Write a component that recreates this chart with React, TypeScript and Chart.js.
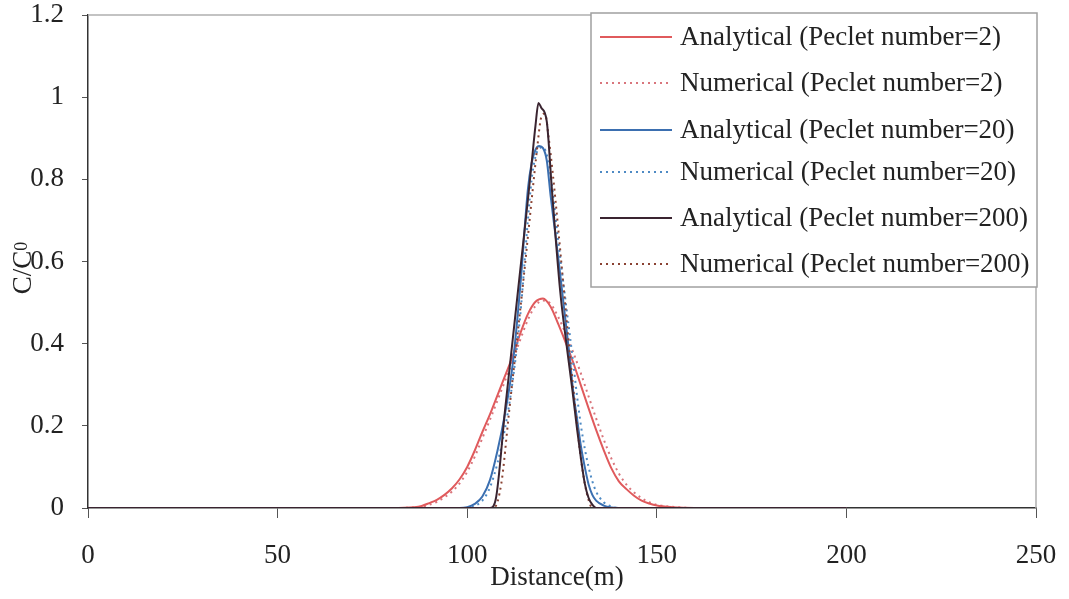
import React, { useEffect, useRef } from "react";
import { Chart, registerables } from "chart.js";

Chart.register(...registerables);

// ---- Data ----
const xTicks = [0, 50, 100, 150, 200, 250];
const yTicks = [0, 0.2, 0.4, 0.6, 0.8, 1, 1.2];

const seriesLabels = [
  "Analytical (Peclet number=2)",
  "Numerical (Peclet number=2)",
  "Analytical (Peclet number=20)",
  "Numerical (Peclet number=20)",
  "Analytical (Peclet number=200)",
  "Numerical (Peclet number=200)",
];

const anaPe2X = [0, 80, 86, 88, 90, 92, 94, 96, 98, 100, 102, 104, 106, 108, 110, 112, 114, 116, 118, 120, 122, 124, 126, 128, 130, 132, 134, 136, 138, 140, 142, 144, 146, 148, 150, 154, 160, 200];
const anaPe2Y = [0, 0, 0.002, 0.005, 0.012, 0.02, 0.032, 0.048, 0.07, 0.1, 0.14, 0.185, 0.228, 0.275, 0.322, 0.37, 0.425, 0.472, 0.502, 0.51, 0.49, 0.448, 0.402, 0.353, 0.298, 0.243, 0.19, 0.141, 0.097, 0.065, 0.046, 0.03, 0.018, 0.011, 0.006, 0.002, 0, 0];

const numPe2X = [0, 80, 88, 90, 92, 94, 96, 98, 100, 102, 104, 106, 108, 110, 112, 114, 116, 118, 120, 122, 124, 126, 128, 130, 132, 134, 136, 138, 140, 142, 144, 146, 148, 150, 154, 160, 200];
const numPe2Y = [0, 0, 0.003, 0.008, 0.015, 0.026, 0.04, 0.06, 0.088, 0.125, 0.17, 0.215, 0.262, 0.31, 0.358, 0.41, 0.458, 0.492, 0.505, 0.497, 0.465, 0.424, 0.378, 0.327, 0.272, 0.218, 0.167, 0.121, 0.084, 0.057, 0.038, 0.024, 0.014, 0.008, 0.003, 0, 0];

const anaPe20X = [0, 98, 100, 102, 104, 106, 108, 110, 112, 114, 116, 117, 118, 119, 120, 121, 122, 124, 126, 127, 128, 129, 130, 131, 132, 133, 134, 136, 138, 140, 200];
const anaPe20Y = [0, 0, 0.002, 0.01, 0.028, 0.068, 0.14, 0.231, 0.35, 0.54, 0.775, 0.84, 0.872, 0.881, 0.876, 0.845, 0.76, 0.61, 0.45, 0.37, 0.28, 0.215, 0.15, 0.1, 0.058, 0.032, 0.018, 0.006, 0.001, 0, 0];

const numPe20X = [0, 100, 102, 104, 106, 108, 110, 112, 114, 116, 117, 118, 119, 120, 121, 122, 124, 126, 128, 129, 130, 131, 132, 133, 134, 136, 138, 140, 200];
const numPe20Y = [0, 0, 0.005, 0.018, 0.05, 0.11, 0.195, 0.31, 0.47, 0.7, 0.8, 0.855, 0.875, 0.878, 0.86, 0.81, 0.65, 0.5, 0.35, 0.27, 0.2, 0.145, 0.1, 0.065, 0.04, 0.014, 0.004, 0, 0];

const anaPe200X = [0, 106, 107.5, 110, 112, 114, 116, 117, 118, 118.8, 119.5, 121, 122.3, 124.5, 126.3, 127.7, 129, 130, 131, 132, 133, 134, 200];
const anaPe200Y = [0, 0, 0.02, 0.24, 0.41, 0.58, 0.75, 0.84, 0.93, 0.986, 0.975, 0.94, 0.78, 0.53, 0.39, 0.29, 0.19, 0.12, 0.06, 0.025, 0.008, 0, 0];

const numPe200X = [0, 107, 109, 111, 113, 115, 117, 118.5, 119.5, 120.5, 121.5, 122.5, 124, 125, 126, 127, 128, 129, 130, 131, 132, 133, 200];
const numPe200Y = [0, 0, 0.06, 0.23, 0.4, 0.57, 0.75, 0.88, 0.95, 0.96, 0.9, 0.82, 0.68, 0.58, 0.48, 0.38, 0.29, 0.2, 0.12, 0.06, 0.02, 0, 0];

const seriesColors = ["#e05a5c", "#d9757c", "#3b6fb0", "#4e8ac4", "#3a2430", "#8a4232"];
const seriesDashed = [false, true, false, true, false, true];

const FONT = "'Liberation Serif', 'Times New Roman', serif";
const FS = 27;

function pts(xs: number[], ys: number[]) {
  return xs.map((x, i) => ({ x, y: ys[i] }));
}

export default function App() {
  const ref = useRef<HTMLCanvasElement | null>(null);

  useEffect(() => {
    if (!ref.current) return;
    const xsAll = [anaPe2X, numPe2X, anaPe20X, numPe20X, anaPe200X, numPe200X];
    const ysAll = [anaPe2Y, numPe2Y, anaPe20Y, numPe20Y, anaPe200Y, numPe200Y];

    const datasets = seriesLabels.map((label, i) => ({
      label,
      data: pts(xsAll[i], ysAll[i]),
      borderColor: seriesColors[i],
      backgroundColor: seriesColors[i],
      borderWidth: 2,
      borderDash: seriesDashed[i] ? [2, 4] : [],
      pointRadius: 0,
      fill: false,
      cubicInterpolationMode: "monotone" as const,
    }));
    const ordered = [4, 5, 2, 3, 0, 1].map((i) => datasets[i]);

    const framePlugin = {
      id: "frame",
      afterDraw(chart: any) {
        const { ctx, chartArea } = chart;
        const { left, right, top, bottom } = chartArea;
        ctx.save();
        ctx.strokeStyle = "#b0b0b0";
        ctx.lineWidth = 1.5;
        ctx.beginPath();
        ctx.moveTo(left, top);
        ctx.lineTo(right, top);
        ctx.lineTo(right, bottom);
        ctx.stroke();

        // y title C/C0
        ctx.fillStyle = "#222";
        ctx.translate(22, 268);
        ctx.rotate(-Math.PI / 2);
        ctx.font = `${FS}px ${FONT}`;
        ctx.textBaseline = "alphabetic";
        ctx.textAlign = "left";
        const main = "C/C";
        const w = ctx.measureText(main).width;
        ctx.font = `18px ${FONT}`;
        const w2 = ctx.measureText("0").width;
        const total = w + w2;
        ctx.font = `${FS}px ${FONT}`;
        ctx.fillText(main, -total / 2, 9);
        ctx.font = `18px ${FONT}`;
        ctx.fillText("0", -total / 2 + w, 5);
        ctx.restore();

        // x title
        ctx.save();
        ctx.fillStyle = "#222";
        ctx.font = `${FS}px ${FONT}`;
        ctx.textAlign = "center";
        ctx.textBaseline = "middle";
        ctx.fillText("Distance(m)", 557, 578);
        ctx.restore();

        // legend
        ctx.save();
        const lx = 591, ly = 13, lw = 446, lh = 274;
        ctx.fillStyle = "#ffffff";
        ctx.fillRect(lx, ly, lw, lh);
        ctx.strokeStyle = "#a0a0a0";
        ctx.lineWidth = 1.5;
        ctx.strokeRect(lx, ly, lw, lh);
        const rowY = [37, 83, 130, 172, 218, 264];
        ctx.font = `${FS}px ${FONT}`;
        ctx.textBaseline = "middle";
        ctx.textAlign = "left";
        seriesLabels.forEach((label, i) => {
          const y = rowY[i];
          ctx.strokeStyle = seriesColors[i];
          ctx.lineWidth = 2;
          ctx.setLineDash(seriesDashed[i] ? [2, 4] : []);
          ctx.beginPath();
          ctx.moveTo(600, y);
          ctx.lineTo(672, y);
          ctx.stroke();
          ctx.setLineDash([]);
          ctx.fillStyle = "#222";
          ctx.fillText(label, 680, y + 1);
        });
        ctx.restore();
      },
    };

    const chart = new Chart(ref.current, {
      type: "line",
      data: { datasets: ordered as any },
      options: {
        responsive: false,
        animation: false,
        layout: { padding: { top: 15, right: 33, left: 0, bottom: 0 } },
        plugins: {
          legend: { display: false },
          tooltip: { enabled: false },
          title: { display: false },
        },
        scales: {
          x: {
            type: "linear",
            min: 0,
            max: 250,
            afterBuildTicks: (scale: any) => {
              scale.ticks = xTicks.map((v) => ({ value: v }));
            },
            afterFit: (scale: any) => {
              scale.height = 91;
              scale.paddingLeft = 0;
              scale.paddingRight = 0;
            },
            ticks: {
              color: "#222",
              font: { family: FONT, size: FS },
              padding: 22,
              maxRotation: 0,
              autoSkip: false,
              callback: (v: any) => String(Math.round(Number(v) * 10) / 10),
            },
            grid: {
              display: true,
              drawOnChartArea: false,
              drawTicks: true,
              tickLength: 10,
              color: "#555",
            },
            border: { display: true, color: "#333", width: 1.5 },
          },
          y: {
            type: "linear",
            min: 0,
            max: 1.2,
            afterBuildTicks: (scale: any) => {
              scale.ticks = yTicks.map((v) => ({ value: v }));
            },
            afterFit: (scale: any) => {
              scale.width = 88;
              scale.paddingTop = 0;
              scale.paddingBottom = 0;
            },
            ticks: {
              color: "#222",
              font: { family: FONT, size: FS },
              padding: 18,
              autoSkip: false,
              callback: (v: any) => String(Math.round(Number(v) * 10) / 10),
            },
            grid: {
              display: true,
              drawOnChartArea: false,
              drawTicks: true,
              tickLength: 6,
              color: "#555",
            },
            border: { display: true, color: "#333", width: 1.5 },
          },
        },
      },
      plugins: [framePlugin],
    });
    return () => chart.destroy();
  }, []);

  return (
    <div style={{ position: "absolute", left: 0, top: 0, width: 1069, height: 599, background: "#fff" }}>
      <canvas ref={ref} width={1069} height={599} />
    </div>
  );
}
